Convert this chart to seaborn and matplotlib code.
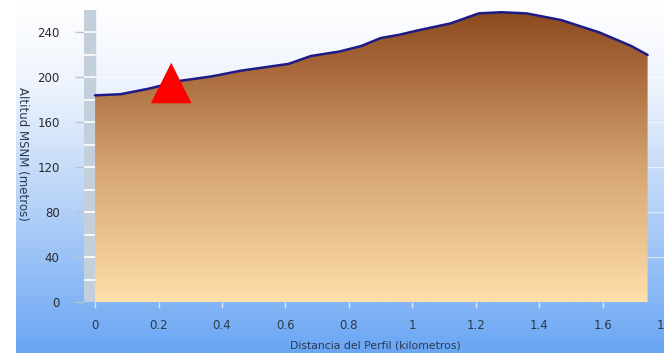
import numpy as np
import pandas as pd
import matplotlib
matplotlib.use("Agg")
import matplotlib.pyplot as plt
from matplotlib.colors import LinearSegmentedColormap
import seaborn as sns

# ---- data ----
distancia_km = [0.0, 0.08, 0.17, 0.27, 0.37, 0.46, 0.56, 0.61, 0.68, 0.77, 0.84, 0.90,
                0.96, 1.02, 1.12, 1.17, 1.21, 1.28, 1.36, 1.47, 1.59, 1.69, 1.742]
altitud_m = [184, 185, 190, 197, 201, 206, 210, 212, 219, 223, 228, 235,
             238, 242, 248, 253, 257, 258, 257, 251, 240, 228, 220]
marcador_x = [0.24]
marcador_y = [195]
y_ticks = [0, 40, 80, 120, 160, 200, 240]
x_ticks = [0, 0.2, 0.4, 0.6, 0.8, 1, 1.2, 1.4, 1.6, 1.8]
x_ticklabels = ["0", "0.2", "0.4", "0.6", "0.8", "1", "1.2", "1.4", "1.6", "1.8"]

df = pd.DataFrame({"Distancia": distancia_km, "Altitud": altitud_m})

sns.set_theme(style="white")
plt.rcParams["font.family"] = ["DejaVu Sans"]

W, H = 664, 353
fig = plt.figure(figsize=(W / 100, H / 100), dpi=100)
fig.patch.set_facecolor("white")

# background gradient
bg = fig.add_axes([16 / W, 0, 1 - 16 / W, 1], zorder=0)
bg_cmap = LinearSegmentedColormap.from_list(
    "bg", [(0, "#ffffff"), (0.25, "#edf3fd"), (0.55, "#bbd5f8"), (1, "#6aa6f4")])
grad = np.linspace(0, 1, 256).reshape(-1, 1)
bg.imshow(grad, aspect="auto", cmap=bg_cmap, extent=[0, 1, 1, 0])
bg.set_axis_off()

# main axes
left, right = 84, 666
top, bottom = 10, 302
ax = fig.add_axes([left / W, (H - bottom) / H, (right - left) / W, (bottom - top) / H], zorder=1)
ax.patch.set_alpha(0)

# grid lines
for yv in y_ticks:
    ax.axhline(yv, color="white", lw=0.8, alpha=0.6, zorder=0.5)

# gray wall
ax.axvspan(-0.035, 0, color="#c3cfdb", zorder=1)
for yv in range(20, 260, 20):
    ax.plot([-0.035, 0], [yv, yv], color="white", lw=1.2, zorder=1.2)

# gradient fill under curve
poly = ax.fill_between(df["Distancia"], df["Altitud"], 0, color="none", zorder=2)
area_cmap = LinearSegmentedColormap.from_list(
    "area", [(0, "#ffdfab"), (0.45, "#d6a672"), (0.8, "#a8683a"), (1, "#8a4a1e")])
img = ax.imshow(np.linspace(0, 1, 256).reshape(-1, 1), aspect="auto", cmap=area_cmap,
                origin="lower", extent=[0, max(distancia_km), 0, 260], zorder=2)
img.set_clip_path(poly.get_paths()[0], transform=ax.transData)

sns.lineplot(data=df, x="Distancia", y="Altitud", ax=ax, color="#1e1a86", lw=1.8, zorder=3)
sns.scatterplot(x=marcador_x, y=marcador_y, ax=ax, marker="^", s=850, color="#ff0000",
                edgecolor="none", zorder=4)

ax.set_xlim(-0.035, 1.8)
ax.set_ylim(0, 260)

for s in ax.spines.values():
    s.set_visible(False)

ax.set_yticks(y_ticks)
ax.set_yticklabels([str(v) for v in y_ticks])
ax.set_xticks(x_ticks)
ax.set_xticklabels(x_ticklabels)
ax.tick_params(axis="y", which="major", left=True, length=6.5, width=1, color="#b8c4d0",
               labelsize=8.5, labelcolor="#2a2a2a", pad=11)
ax.tick_params(axis="x", which="major", bottom=True, length=4, width=1, color="#d8e6f8",
               labelsize=8.5, labelcolor="#2a3a4a", pad=8)

ax.set_xlabel("Distancia del Perfil (kilometros)", fontsize=7.8, color="#2a3a50", labelpad=6)
ax.set_ylabel("")
fig.text(22 / W, 1 - 154 / H, "Altitud MSNM (metros)", rotation=270, fontsize=8.5,
         color="#2a3a50", ha="center", va="center")

fig.savefig("out.png", dpi=100)
